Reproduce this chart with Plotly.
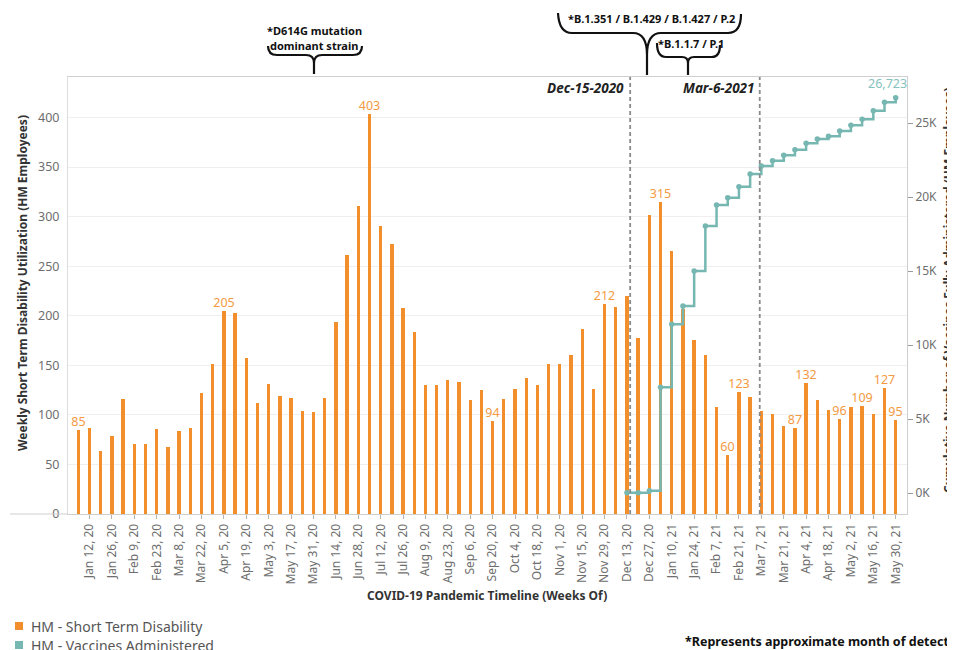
import pandas as pd
import plotly.graph_objects as go

# ---------------- data ----------------
weeks = pd.date_range("2020-01-05", periods=74, freq="7D")

std_values = [85, 87, 64, 79, 116, 71, 71, 86, 68, 84,
              87, 122, 151, 205, 203, 157, 112, 131, 119, 117,
              104, 103, 117, 194, 261, 311, 403, 291, 272, 208,
              184, 130, 130, 135, 133, 115, 125, 94, 116, 126,
              137, 130, 151, 151, 160, 187, 126, 212, 209, 220,
              178, 302, 315, 265, 207, 176, 160, 108, 60, 123,
              118, 104, 101, 89, 87, 132, 115, 105, 96, 108,
              109, 101, 127, 95]

labeled_weeks = [0, 13, 26, 37, 47, 52, 58, 59, 64, 65, 68, 70, 72, 73]

vaccine_start = 49  # week index of Dec 13, 2020
vaccine_values = [30, 30, 180, 7160, 11420, 12660, 15020, 18060, 19480, 19970,
                  20720, 21570, 22110, 22470, 22840, 23220, 23650, 23940, 24120,
                  24480, 24860, 25270, 25850, 26420, 26723]

left_ticks = [0, 50, 100, 150, 200, 250, 300, 350, 400]
right_ticks = [0, 5000, 10000, 15000, 20000, 25000]
right_tick_text = [f"{v // 1000}K" for v in right_ticks]

ref_dates = ["2020-12-15", "2021-03-06"]
ref_labels = ["Dec-15-2020", "Mar-6-2021"]

# ---------------- styling helpers ----------------
ORANGE = "#F28E2B"
TEAL = "#76B7B2"
FONT = "Noto Sans"
OFF = 8                      # page body margin
L, T, R, B = 68, 77, 907, 514  # plot area in window pixels
W, H = R - L, B - T
FIG_W, FIG_H = 955 - OFF, 650 - OFF


def xp(px):
    return (px - L) / W


def yp(py):
    return (B - py) / H


def path(cmds):
    out = []
    for c, pts in cmds:
        out.append(c + " " + " ".join(f"{xp(x):.5f},{yp(y):.5f}" for x, y in pts))
    return " ".join(out)


bar_text = [str(v) if i in labeled_weeks else "" for i, v in enumerate(std_values)]

fig = go.Figure()
fig.add_trace(go.Bar(
    x=weeks, y=std_values, width=2.1 * 86400000,
    marker=dict(color=ORANGE, line=dict(width=0)),
    text=bar_text, textposition="outside", constraintext="none", cliponaxis=False,
    textfont=dict(color="#F39A42", size=12.5, family=FONT),
    name="HM - Short Term Disability", showlegend=False,
))
fig.add_trace(go.Scatter(
    x=weeks[vaccine_start:], y=vaccine_values, yaxis="y2",
    mode="lines+markers", line=dict(color=TEAL, width=2.5, shape="hv"),
    marker=dict(color=TEAL, size=5.5),
    name="HM - Vaccines Administered", showlegend=False, cliponaxis=False,
))

shapes = []
for d in ref_dates:
    shapes.append(dict(type="line", xref="x", yref="paper", x0=d, x1=d, y0=0, y1=1,
                       line=dict(color="#8a8a8a", width=1.8, dash="4px,3px")))

# extension of the baseline to the left
shapes.append(dict(type="line", xref="paper", yref="paper", x0=xp(10), x1=0, y0=0, y1=0,
                   line=dict(color="#cfcfcf", width=1)))

brace_line = dict(color="#111111", width=2.2)
braces = [
    [("M", [(268, 46)]), ("Q", [(268, 55), (277, 55)]), ("L", [(306, 55)]),
     ("Q", [(314, 55), (314, 63)]), ("L", [(314, 74)]),
     ("M", [(314, 63)]), ("Q", [(314, 55), (322, 55)]), ("L", [(353, 55)]),
     ("Q", [(362, 55), (362, 46)])],
    [("M", [(558, 13)]), ("Q", [(559, 33), (572, 33)]), ("L", [(633, 33)]),
     ("Q", [(647, 33), (647, 55)]), ("L", [(647, 75)]),
     ("M", [(647, 55)]), ("Q", [(647, 33), (661, 33)]), ("L", [(728, 33)]),
     ("Q", [(741, 33), (741, 14)])],
    [("M", [(657, 43)]), ("Q", [(657, 57), (666, 57)]), ("L", [(682, 57)]),
     ("Q", [(688, 57), (688, 63)]), ("L", [(688, 75)]),
     ("M", [(688, 63)]), ("Q", [(688, 57), (694, 57)]), ("L", [(712, 57)]),
     ("Q", [(720, 57), (720, 45)])],
]
for b in braces:
    shapes.append(dict(type="path", xref="paper", yref="paper", path=path(b), line=brace_line))

# manual legend swatches
shapes.append(dict(type="rect", xref="paper", yref="paper", x0=xp(15), x1=xp(23),
                   y0=yp(630), y1=yp(622), fillcolor=ORANGE, line=dict(width=0)))
shapes.append(dict(type="rect", xref="paper", yref="paper", x0=xp(15), x1=xp(23),
                   y0=yp(649), y1=yp(641), fillcolor=TEAL, line=dict(width=0)))

ann = []
for d, lab in zip(ref_dates, ref_labels):
    ann.append(dict(x=d, y=yp(88), xref="x", yref="paper", text=f"<b><i>{lab}</i></b>",
                    showarrow=False, xanchor="right", yanchor="middle", xshift=-4,
                    font=dict(size=13.5, color="#222222", family=FONT)))

ann.append(dict(x=weeks[vaccine_start + len(vaccine_values) - 1], y=vaccine_values[-1],
                xref="x", yref="y2", text=f"{vaccine_values[-1]:,}", showarrow=False,
                xanchor="center", yanchor="bottom", xshift=-8, yshift=4,
                font=dict(size=12.5, color="#86C2BD", family=FONT)))

bold_font = dict(size=11, color="#111111", family=FONT)
ann += [
    dict(x=xp(314), y=yp(30), text="<b>*D614G mutation</b>", font=bold_font),
    dict(x=xp(314), y=yp(45), text="<b>dominant strain</b>", font=bold_font),
    dict(x=xp(651), y=yp(19), text="<b>*B.1.351 / B.1.429 / B.1.427 / P.2</b>", font=bold_font),
    dict(x=xp(691), y=yp(44), text="<b>*B.1.1.7 / P.1</b>", font=bold_font),
    dict(x=xp(487), y=yp(595), text="<b>COVID-19 Pandemic Timeline (Weeks Of)</b>",
         font=dict(size=12, color="#333333", family=FONT)),
    dict(x=xp(22), y=yp(283), text="<b>Weekly Short Term Disability Utilization (HM Employees)</b>",
         textangle=-90, font=dict(size=12, color="#333333", family=FONT)),
    dict(x=xp(948), y=yp(290), text="<b>Cumulative Number of Vaccines Fully Administered (HM Employees)</b>",
         textangle=-90, font=dict(size=12, color="#333333", family=FONT)),
    dict(x=xp(29), y=yp(626), text="HM - Short Term Disability", xanchor="left",
         font=dict(size=14, color="#555555", family=FONT)),
    dict(x=xp(29), y=yp(645), text="HM - Vaccines Administered", xanchor="left",
         font=dict(size=14, color="#555555", family=FONT)),
    dict(x=xp(683), y=yp(641), text="<b>*Represents approximate month of detection</b>",
         xanchor="left", font=dict(size=12.5, color="#111111", family=FONT)),
]
for a in ann:
    a.setdefault("xref", "paper")
    a.setdefault("yref", "paper")
    a.setdefault("showarrow", False)
    a.setdefault("xanchor", "center")
    a.setdefault("yanchor", "middle")

fig.update_layout(
    template="none",
    width=FIG_W, height=FIG_H,
    margin=dict(l=L - OFF, r=955 - R, t=T - OFF, b=650 - B, autoexpand=False),
    paper_bgcolor="white", plot_bgcolor="white",
    font=dict(family=FONT, color="#6e6e6e", size=12),
    bargap=0, showlegend=False,
    xaxis=dict(
        type="date", range=["2019-12-29 13:26", "2021-06-06 01:30"],
        tick0="2020-01-12", dtick=14 * 86400000, tickformat="%b %-d, %y",
        tickangle=-90, ticks="outside", ticklen=4, tickcolor="#b5b5b5",
        showline=True, linecolor="#cfcfcf", linewidth=1, mirror=True,
        showgrid=False, zeroline=False,
        tickfont=dict(size=12, color="#6e6e6e", family=FONT),
    ),
    yaxis=dict(
        range=[0, 440.8], tickvals=left_ticks, ticks="",
        showgrid=True, gridcolor="#efefef", gridwidth=1,
        showline=True, linecolor="#dddddd", zeroline=False,
        ticklabelstandoff=5,
        tickfont=dict(size=12.5, color="#6e6e6e", family=FONT),
    ),
    yaxis2=dict(
        overlaying="y", side="right", range=[-1399, 28128],
        tickvals=right_ticks, ticktext=right_tick_text,
        ticks="outside", ticklen=5, tickcolor="#9a9a9a",
        showgrid=False, showline=True, linecolor="#cfcfcf", zeroline=False,
        tickfont=dict(size=12, color="#6e6e6e", family=FONT),
    ),
    shapes=shapes,
    annotations=ann,
)

fig.write_html("out.html")
